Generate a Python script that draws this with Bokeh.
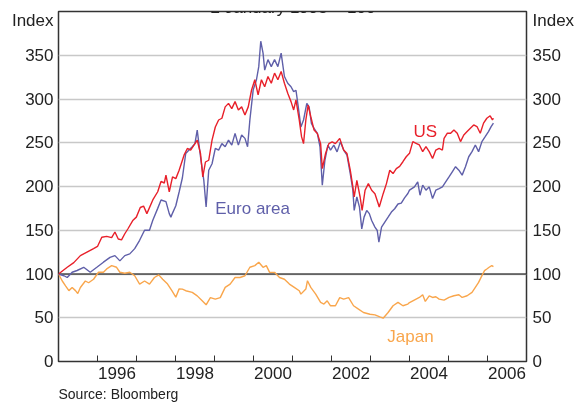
from bokeh.plotting import figure
from bokeh.models import FixedTicker, LinearAxis, Label, Span, Range1d, Title
from bokeh.embed import file_html
from bokeh.resources import INLINE

FONT = "Liberation Sans"

# ---- data (index, 2 January 1995 = 100) ----
us_t = [1995.000, 1995.224, 1995.392, 1995.561, 1995.730, 1995.899,
        1996.000, 1996.110, 1996.236, 1996.363, 1996.447, 1996.532, 1996.616, 1996.700, 1996.785, 1996.911, 1996.996,
        1997.097, 1997.181, 1997.266, 1997.418, 1997.544, 1997.629, 1997.713, 1997.755, 1997.840, 1997.924,
        1998.008, 1998.093, 1998.177, 1998.219, 1998.304, 1998.388, 1998.473, 1998.557, 1998.641, 1998.700, 1998.768, 1998.852, 1998.937,
        1999.021, 1999.106, 1999.190, 1999.274, 1999.359, 1999.443, 1999.527, 1999.612, 1999.696, 1999.781, 1999.865, 1999.949,
        2000.034, 2000.118, 2000.203, 2000.287, 2000.371, 2000.456, 2000.540, 2000.625, 2000.709, 2000.793, 2000.878, 2000.962,
        2001.030, 2001.089, 2001.173, 2001.232, 2001.283, 2001.342, 2001.401, 2001.468, 2001.553, 2001.637, 2001.721, 2001.764, 2001.848, 2001.932,
        2002.017, 2002.101, 2002.211, 2002.312, 2002.397, 2002.481, 2002.548, 2002.582, 2002.650, 2002.734, 2002.785, 2002.861, 2002.945,
        2003.030, 2003.114, 2003.198, 2003.224, 2003.325, 2003.409, 2003.494, 2003.578, 2003.662, 2003.747, 2003.831, 2003.916,
        2004.000, 2004.085, 2004.169, 2004.253, 2004.338, 2004.422, 2004.506, 2004.591, 2004.675, 2004.760, 2004.844, 2004.886, 2004.971,
        2005.055, 2005.139, 2005.224, 2005.308, 2005.392, 2005.477, 2005.561, 2005.646, 2005.730, 2005.814, 2005.899, 2005.983,
        2006.068, 2006.127, 2006.152]
us_v = [100, 107.7, 113, 121, 125, 129,
        131.5, 142, 143, 141.5, 148, 140, 139, 146, 152, 161.5, 165,
        176, 177.7, 169, 184.6, 194, 205.8, 204, 213, 194, 211,
        209, 218.6, 230, 235.8, 243.5, 241.6, 247.3, 253, 237.7, 211, 228, 230, 253,
        268, 276, 278, 291, 295, 289, 297, 287.5, 291, 281.7, 291, 310,
        322, 304.7, 322, 314, 325.7, 318, 329.6, 322, 331.5, 318, 306.6, 297,
        287.5, 299, 276, 257, 249, 276, 293, 280, 264.5, 260.7, 249, 220.5, 237.7, 249,
        251, 249, 255, 241.6, 237.7, 218.6, 199.5, 188, 207, 188, 172.7, 195.7, 203.3,
        195.7, 191.8, 180.3, 176.5, 191.8, 203.3, 218.6, 214.8, 220.5, 223, 228.3, 234,
        237.9, 251.3, 249.4, 247.5, 239.8, 245.5, 239.8, 232, 241.7, 243.6, 241.7, 255, 260.9,
        260.9, 264.7, 260.9, 251.3, 258.9, 262.8, 266.6, 270.4, 268.5, 260.9, 272.4, 278,
        280.8, 276.2, 278]

euro_t = [1995.000, 1995.139, 1995.224, 1995.350, 1995.477, 1995.646, 1995.814, 1995.983,
          1996.152, 1996.321, 1996.447, 1996.574, 1996.700, 1996.827, 1996.954,
          1997.080, 1997.207, 1997.333, 1997.418, 1997.544, 1997.629, 1997.755, 1997.840, 1997.882, 1997.924,
          1998.008, 1998.093, 1998.177, 1998.262, 1998.346, 1998.430, 1998.498, 1998.557, 1998.641, 1998.726, 1998.785, 1998.852, 1998.937,
          1999.021, 1999.106, 1999.190, 1999.274, 1999.359, 1999.443, 1999.527, 1999.612, 1999.696, 1999.781, 1999.848, 1999.907, 1999.992,
          2000.076, 2000.135, 2000.186, 2000.245, 2000.287, 2000.371, 2000.456, 2000.540, 2000.625, 2000.709, 2000.793, 2000.878, 2000.962,
          2001.030, 2001.089, 2001.148, 2001.215, 2001.283, 2001.367, 2001.426, 2001.485, 2001.553, 2001.637, 2001.705, 2001.764, 2001.831, 2001.907, 2001.975,
          2002.059, 2002.143, 2002.228, 2002.312, 2002.397, 2002.481, 2002.548, 2002.582, 2002.650, 2002.717, 2002.776, 2002.835, 2002.903, 2002.970,
          2003.030, 2003.114, 2003.173, 2003.215, 2003.283, 2003.367, 2003.451, 2003.536, 2003.620, 2003.705, 2003.789, 2003.873, 2003.958,
          2004.000, 2004.127, 2004.211, 2004.270, 2004.338, 2004.422, 2004.506, 2004.591, 2004.675, 2004.760, 2004.844, 2004.928,
          2005.013, 2005.097, 2005.181, 2005.266, 2005.350, 2005.435, 2005.519, 2005.603, 2005.688, 2005.772, 2005.857, 2005.941,
          2006.025, 2006.093, 2006.152]
euro_v = [100, 98, 96, 102, 104, 107.7, 102, 107.7,
          113.5, 119, 121, 115, 121, 123, 129,
          138.5, 150, 150, 161.5, 175, 184.6, 182.7, 169, 165, 169.6,
          178, 193.7, 210, 237.7, 241.6, 245.4, 249, 264.5, 234, 207, 176.5, 218.6, 226,
          243.5, 241.6, 249, 245.4, 253, 247.3, 260.7, 247.3, 258.8, 255, 245.4, 276, 310.4,
          322, 337, 366, 352.5, 333, 345, 337, 345, 337, 352.5, 325.7, 318, 314,
          308.5, 310, 291, 268, 276, 295, 291, 272, 266.4, 260.7, 245.4, 201.4, 230, 247.3, 241.6,
          247.3, 239.6, 251, 241.6, 235.8, 214.8, 195.7, 172.7, 188, 176.5, 151.6, 165, 172.7, 169,
          161.2, 153.6, 149.7, 136.3, 153.6, 159.3, 165, 170.8, 174.6, 180, 181, 187, 192,
          195.8, 199.6, 205.3, 190, 201.5, 195.8, 199.6, 186.2, 195.8, 197.7, 199.6, 205.3,
          211, 216.8, 222.6, 218.7, 213, 222.6, 234, 239.8, 247.5, 239.8, 251.3, 257,
          262.8, 268.5, 272.4]

japan_t = [1995.000, 1995.097, 1995.181, 1995.266, 1995.350, 1995.435, 1995.494, 1995.561, 1995.688, 1995.772, 1995.899,
           1996.025, 1996.152, 1996.236, 1996.363, 1996.489, 1996.574, 1996.700, 1996.827, 1996.954,
           1997.080, 1997.207, 1997.333, 1997.460, 1997.570, 1997.671, 1997.797, 1997.907,
           1998.008, 1998.093, 1998.177, 1998.262, 1998.430, 1998.557, 1998.684, 1998.785, 1998.894,
           1999.021, 1999.148, 1999.274, 1999.401, 1999.527, 1999.654, 1999.781, 1999.907,
           2000.034, 2000.135, 2000.245, 2000.329, 2000.413, 2000.540, 2000.667, 2000.793, 2000.920,
           2001.046, 2001.173, 2001.215, 2001.342, 2001.384, 2001.468, 2001.595, 2001.721, 2001.806, 2001.890, 2001.975,
           2002.101, 2002.211, 2002.312, 2002.439, 2002.565, 2002.692, 2002.819, 2002.987,
           2003.114, 2003.240, 2003.325, 2003.451, 2003.578, 2003.705, 2003.831, 2003.958,
           2004.000, 2004.085, 2004.169, 2004.253, 2004.338, 2004.405, 2004.506, 2004.591, 2004.675, 2004.760, 2004.886,
           2005.013, 2005.139, 2005.266, 2005.350, 2005.477, 2005.603, 2005.688, 2005.772, 2005.857, 2005.924, 2005.983,
           2006.042, 2006.110, 2006.152]
japan_v = [100, 92, 86.5, 81, 84.6, 81, 77.7, 84.6, 92, 90, 94,
           102, 102, 105.8, 109.6, 107.7, 102, 100.8, 102, 98,
           88.5, 92, 88.5, 96, 99, 94, 88.5, 81,
           73.5, 83, 82.7, 80.9, 79, 75, 69.4, 64.8, 73,
           71.3, 73, 84.7, 88.5, 96, 96, 98, 107.7,
           109.6, 113.4, 107.7, 109.6, 101.9, 101.9, 96, 94, 88.5,
           84.7, 80.9, 77, 82.8, 92.3, 84.7, 77, 67.5, 65.6, 69.4, 63.7,
           63.7, 73, 71.3, 73, 63.7, 59.8, 56, 54,
           53.3, 51, 49.5, 56, 63.7, 67.5, 63.7, 65.6,
           67.4, 69.4, 71.3, 73.2, 76.3, 68.6, 75.1, 73.2, 74, 71.3, 70.1,
           73.2, 75.1, 76.3, 73.2, 75.1, 79, 84.7, 90.4, 98.1, 103.8, 105.7,
           107.7, 109.6, 108.4]

y_ticks = [0, 50, 100, 150, 200, 250, 300, 350]
grid_ticks = [50, 100, 150, 200, 250, 300, 350]
unit_label = "Index"
unit_pos = 390          # the "Index" unit label sits at the top of each value axis
year_ticks = [1996, 1997, 1998, 1999, 2000, 2001, 2002, 2003, 2004, 2005, 2006]
label_years = [1996, 1998, 2000, 2002, 2004, 2006]
year_labels = ["1996", "1998", "2000", "2002", "2004", "2006"]

US_COL = "#e8202a"
EU_COL = "#5f5fa9"
JP_COL = "#f9a64c"
TXT = "#222222"

p = figure(width=569, height=410, x_range=Range1d(1995, 2007), y_range=Range1d(0, 400),
           output_backend="svg", toolbar_location=None,
           min_border_left=47, min_border_right=48, min_border_top=11, min_border_bottom=49)
p.styles = {"position": "fixed", "top": "0px", "left": "8px"}
p.background_fill_color = "white"
p.border_fill_color = "white"
p.outline_line_color = "#333333"
p.outline_line_width = 1.5

# y axes (with the "Index" unit label as the top entry)
def style_y(ax, standoff):
    ax.ticker = FixedTicker(ticks=y_ticks + [unit_pos])
    ax.major_label_overrides = {unit_pos: unit_label}
    ax.axis_line_color = None
    ax.major_tick_line_color = None
    ax.minor_tick_line_color = None
    ax.major_tick_in = 0
    ax.major_tick_out = 0
    ax.minor_tick_in = 0
    ax.minor_tick_out = 0
    ax.major_label_text_font = FONT
    ax.major_label_text_font_size = "17px"
    ax.major_label_text_color = TXT
    ax.major_label_standoff = standoff

style_y(p.yaxis[0], 5)
right = LinearAxis()
style_y(right, 6)
p.add_layout(right, "right")

# x axis: ticks at year boundaries, labels mid-year
xa = p.xaxis[0]
xa.ticker = FixedTicker(ticks=[y + 0.5 for y in label_years], minor_ticks=year_ticks)
xa.major_label_overrides = {y + 0.5: lab for y, lab in zip(label_years, year_labels)}
xa.axis_line_color = None
xa.major_tick_line_color = None
xa.major_tick_in = 0
xa.major_tick_out = 0
xa.minor_tick_line_color = "#333333"
xa.minor_tick_in = 6
xa.minor_tick_out = 0
xa.major_label_text_font = FONT
xa.major_label_text_font_size = "17px"
xa.major_label_text_color = TXT
xa.major_label_standoff = 5

p.add_layout(Title(text="Source: Bloomberg", align="left", text_font=FONT, text_font_size="14px",
                   text_font_style="normal", text_color=TXT, standoff=5, offset=0), "below")

p.xgrid.visible = False
p.ygrid.ticker = FixedTicker(ticks=grid_ticks)
p.ygrid.grid_line_color = "#c8c8c8"
p.ygrid.grid_line_width = 1.5

p.add_layout(Span(location=100, dimension="width", line_color="black", line_width=1.2, level="underlay"))

p.line(japan_t, japan_v, line_color=JP_COL, line_width=1.4)
p.line(euro_t, euro_v, line_color=EU_COL, line_width=1.4)
p.line(us_t, us_v, line_color=US_COL, line_width=1.4)

def lab(**kw):
    d = dict(text_font=FONT, text_font_size="17px", text_baseline="alphabetic")
    d.update(kw)
    p.add_layout(Label(**d))

lab(x=2004.10, y=262.4, text="US", text_color=US_COL)
lab(x=1999.02, y=174.7, text="Euro area", text_color=EU_COL)
lab(x=2003.43, y=28.9, text="Japan", text_color=JP_COL)

lab(x=234.5, y=354.5, x_units="screen", y_units="screen", text="2 January 1995 = 100",
    text_color=TXT, text_align="center")

open("out.html", "w").write(file_html(p, INLINE))
